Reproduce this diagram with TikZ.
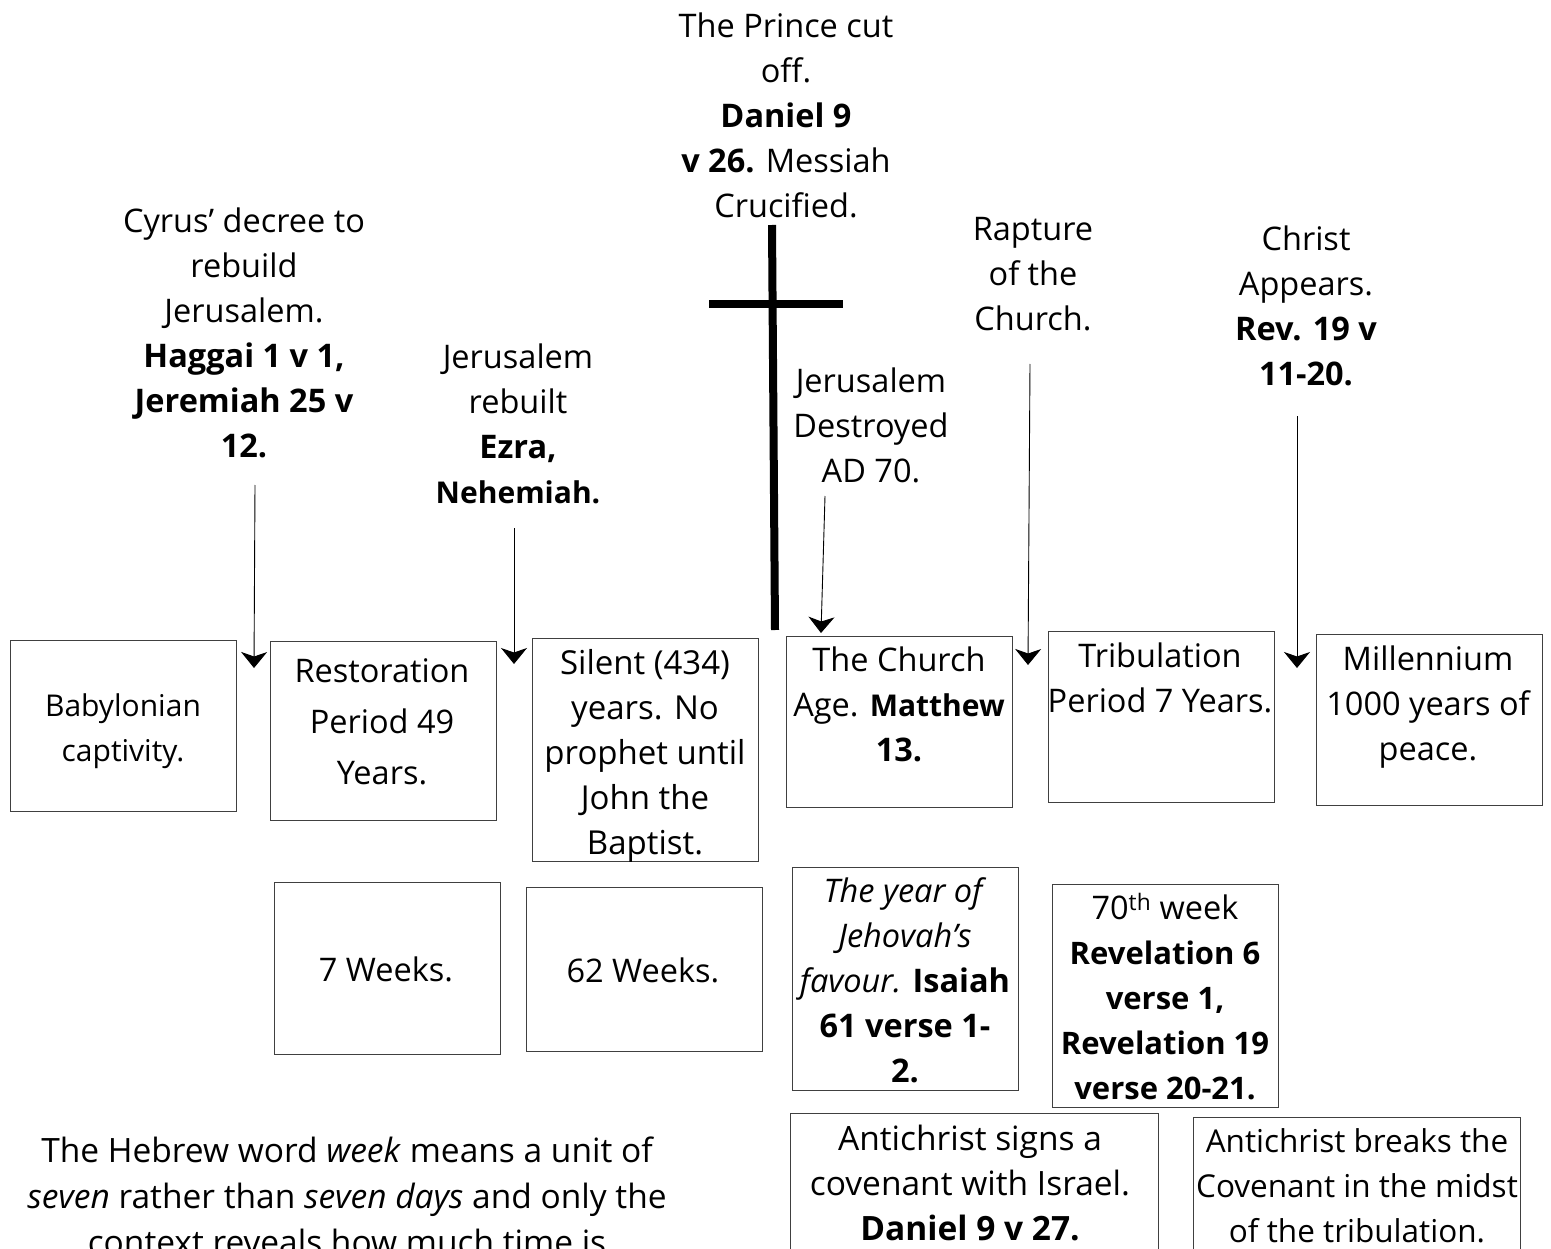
\documentclass[tikz,border=0pt]{standalone}
\usepackage{fontspec}
\setmainfont{Open Sans}
\usetikzlibrary{arrows.meta}
\newcommand{\fsz}[1]{\fontsize{#1}{45}\selectfont}
\newcommand{\bsm}[2]{{\fontsize{#1}{45}\selectfont\bfseries #2}}
\tikzset{
  x=1pt,y=-1pt,
  boxn/.style={draw=black!75,line width=0.9pt,inner sep=0pt,anchor=north west},
  txt/.style={align=center,inner sep=0pt,font=\fontsize{32.5}{45}\selectfont},
  conn/.style={draw=black,line width=0.9pt,-{Stealth[length=16pt,width=26pt,inset=4.5pt]}},
  crossbar/.style={draw=black,line width=8pt}
}
\newcommand{\bx}[5]{\node[boxn,minimum width=#4pt,minimum height=#5pt] (#1) at (#2,#3) {};}
\begin{document}
\begin{tikzpicture}
\useasboundingbox (0,0) rectangle (1551,1249);
\fill[white] (0,0) rectangle (1551,1249);
\bx{a}{9.5}{639.5}{226}{171}
\bx{b}{269.5}{640.5}{226}{179}
\bx{c}{531.5}{637.5}{226}{223}
\bx{d}{785.5}{635.5}{226}{171}
\bx{e}{1047.5}{630.5}{226}{171}
\bx{f}{1315.5}{633.5}{226}{171}
\bx{g}{273.5}{881.5}{226}{172}
\bx{h}{525.5}{886.5}{236}{164}
\bx{i}{791.5}{866.5}{226}{223}
\bx{j}{1051.5}{883.5}{226}{223}
\bx{k}{789.5}{1112.5}{368}{160}
\bx{l}{1192.5}{1116.5}{327}{160}
\node[txt,font=\fsz{30}] (ta) at (123,731) {Babylonian\\captivity.};
\node[txt] (tb) at (382,722) {Restoration\\[6pt]Period 49\\[6pt]Years.};
\node[txt,font=\fsz{33}] (tc) at (645,756) {Silent (434)\\years.  No\\prophet until\\John the\\Baptist.};
\node[txt] (td) at (899,704) {The Church\\Age. \bsm{30}{Matthew}\\\textbf{13.}};
\node[txt] (te) at (1160,678) {Tribulation\\Period 7 Years.};
\node[txt] (tf) at (1428,707) {Millennium\\1000 years of\\peace.};
\node[txt] (tg) at (386,969) {7 Weeks.};
\node[txt] (th) at (643,970) {62 Weeks.};
\node[txt] (ti) at (905,980) {\textit{The year of}\\\textit{Jehovah's}\\\textit{favour.}  \textbf{Isaiah}\\\textbf{61 verse 1-}\\\textbf{2.}};
\node[txt] (tj) at (1165,997) {70\textsuperscript{th} week\\\bsm{31}{Revelation 6}\\\bsm{31}{verse 1,}\\\bsm{31}{Revelation 19}\\\bsm{31}{verse 20-21.}};
\node[txt,font=\fsz{33.5}] (tk) at (970,1183) {Antichrist signs a\\covenant with Israel.\\\textbf{Daniel 9 v 27.}};
\node[txt,font=\fsz{31.5}] (tl) at (1357,1186) {Antichrist breaks the\\Covenant in the midst\\of the tribulation.};
\node[txt,font=\fsz{33.5},anchor=north] (note) at (347,1137) {The Hebrew word \textit{week} means a unit of\\[1pt]\textit{seven} rather than \textit{seven days} and only the\\[1pt]context reveals how much time is};
\node[txt] (cyrus) at (244,333) {Cyrus’ decree to\\rebuild\\Jerusalem.\\\textbf{Haggai 1 v 1,}\\\textbf{Jeremiah 25 v}\\\textbf{12.}};
\node[txt] (rebuilt) at (518,424) {Jerusalem\\rebuilt\\\textbf{Ezra,}\\\bsm{30}{Nehemiah.}};
\node[txt] (prince) at (786,115) {The Prince cut\\off.\\\textbf{Daniel 9}\\\textbf{v 26.} Messiah\\Crucified.};
\node[txt] (destroyed) at (871,425) {Jerusalem\\Destroyed\\AD 70.};
\node[txt] (rapture) at (1033,274) {Rapture\\of the\\Church.};
\node[txt] (christ) at (1306,306) {Christ\\Appears.\\\textbf{Rev. 19 v}\\\textbf{11-20.}};
\coordinate (s1) at (255,485); \coordinate (e1) at (254,668);
\coordinate (s2) at (514,528); \coordinate (e2) at (514,664);
\coordinate (s3) at (825,496); \coordinate (e3) at (821,633);
\coordinate (s4) at (1030,364); \coordinate (e4) at (1028,665);
\coordinate (s5) at (1297,416); \coordinate (e5) at (1297,668);
\draw[conn] (s1) -- (e1);
\draw[conn] (s2) -- (e2);
\draw[conn] (s3) -- (e3);
\draw[conn] (s4) -- (e4);
\draw[conn] (s5) -- (e5);
\coordinate (c1) at (772,225); \coordinate (c2) at (775,630);
\coordinate (c3) at (709,304.5); \coordinate (c4) at (843,304.5);
\draw[crossbar] (c1) -- (c2);
\draw[crossbar] (c3) -- (c4);
\end{tikzpicture}
\end{document}
